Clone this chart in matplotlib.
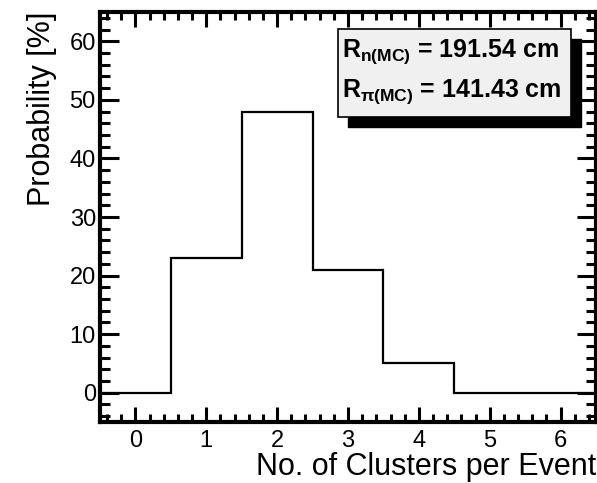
import numpy as np
import matplotlib
matplotlib.use('Agg')
from matplotlib import pyplot as plt
from matplotlib.patches import Rectangle
from matplotlib.ticker import MultipleLocator

plt.rcParams['font.family'] = 'Liberation Sans'
plt.rcParams['mathtext.fontset'] = 'custom'
plt.rcParams['mathtext.rm'] = 'Liberation Sans:bold'
plt.rcParams['mathtext.it'] = 'Liberation Sans:bold'
plt.rcParams['mathtext.bf'] = 'Liberation Sans:bold'

# histogram data
n_clusters = [0, 1, 2, 3, 4, 5, 6]
probability = [0, 23, 48, 21, 5, 0, 0]
r_n = 191.54
r_pi = 141.43

W, H = 597, 483
fig = plt.figure(figsize=(W / 100, H / 100), dpi=100)
ax = fig.add_axes([100 / W, 61 / H, 496 / W, 410 / H])

edges = np.arange(len(n_clusters) + 1) - 0.5
ax.stairs(probability, edges, baseline=None, color='black', linewidth=1.6)

ax.set_xlim(-0.5, 6.5)
ax.set_ylim(-5, 65)
ax.xaxis.set_major_locator(MultipleLocator(1))
ax.xaxis.set_minor_locator(MultipleLocator(0.2))
ax.yaxis.set_major_locator(MultipleLocator(10))
ax.yaxis.set_minor_locator(MultipleLocator(2))
ax.tick_params(which='both', direction='in', top=True, right=True, width=2.2, labelsize=17)
ax.tick_params(which='major', axis='x', length=11, pad=6)
ax.tick_params(which='minor', axis='x', length=5.5)
ax.tick_params(which='major', axis='y', length=14, pad=3)
ax.tick_params(which='minor', axis='y', length=7)
for s in ax.spines.values():
    s.set_linewidth(3)

ax.set_xlabel('No. of Clusters per Event', fontsize=22, loc='right', labelpad=0)
ax.set_ylabel('Probability [%]', fontsize=22, loc='top', labelpad=9)

# stats box with shadow
fig.add_artist(Rectangle((348 / W, (H - 127) / H), 233 / W, 88 / H, transform=fig.transFigure,
                         facecolor='black', edgecolor='black', zorder=10))
fig.add_artist(Rectangle((338 / W, (H - 117) / H), 233 / W, 88 / H, transform=fig.transFigure,
                         facecolor='#f0f0f0', edgecolor='black', linewidth=1.2, zorder=11))
fig.text(342 / W, (H - 52) / H, r'$R_{n(MC)}$' + f' = {r_n:.2f} cm', fontsize=18,
         fontweight='bold', va='center', zorder=12)
fig.text(342 / W, (H - 92) / H, r'$R_{\pi(MC)}$' + f' = {r_pi:.2f} cm', fontsize=18,
         fontweight='bold', va='center', zorder=12)

fig.savefig('out.png', dpi=100)
